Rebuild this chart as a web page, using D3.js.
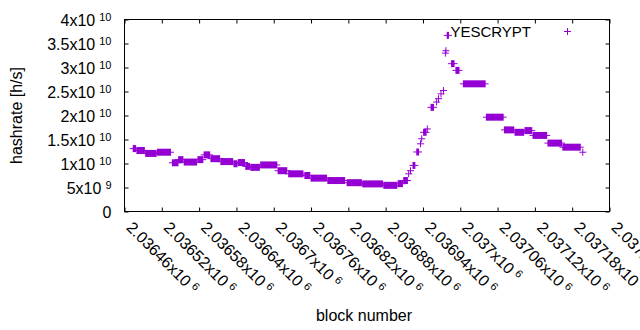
<!DOCTYPE html>
<html>
<head>
<meta charset="utf-8">
<script src="https://cdn.jsdelivr.net/npm/d3@7"></script>
<style>
body { margin: 0; background: #fff; }
text { font-family: "Liberation Sans", Arial, sans-serif; fill: #000; }
</style>
</head>
<body>
<div id="chart"></div>
<script>
// runs of blocks that share (roughly) the same hashrate
// hashrate in units of 1e9 h/s
var runStart = [2036474, 2036480, 2036494, 2036513, 2036537, 2036547, 2036556, 2036578, 2036588, 2036599,
    2036615, 2036636, 2036643, 2036655, 2036663, 2036679, 2036707, 2036724, 2036750, 2036760,
    2036787, 2036818, 2036843, 2036877, 2036900, 2036909, 2036917, 2036920, 2036924, 2036930,
    2036936, 2036938, 2036941, 2036947, 2036953, 2036962, 2036965, 2036969, 2036973, 2036976,
    2036977, 2036979, 2036986, 2036993, 2037005, 2037042, 2037071, 2037088, 2037104, 2037117,
    2037141, 2037165, 2037197];
var runEnd = [2036478, 2036492, 2036511, 2036534, 2036546, 2036554, 2036576, 2036586, 2036597, 2036613,
    2036634, 2036641, 2036653, 2036661, 2036677, 2036705, 2036721, 2036747, 2036758, 2036785,
    2036814, 2036841, 2036875, 2036898, 2036907, 2036915, 2036917, 2036920, 2036927, 2036933,
    2036936, 2036938, 2036945, 2036947, 2036957, 2036962, 2036965, 2036969, 2036973, 2036976,
    2036977, 2036981, 2036990, 2036998, 2037040, 2037069, 2037086, 2037102, 2037115, 2037139,
    2037163, 2037193, 2037197];
var runRate = [13.1, 12.7, 12.1, 12.35, 10.15, 10.8, 10.3, 10.8, 11.8, 11.0,
    10.4, 9.95, 10.2, 9.4, 9.2, 9.7, 8.5, 7.85, 7.5, 6.95,
    6.45, 6.0, 5.75, 5.45, 5.8, 6.45, 7.85, 8.5, 9.6, 12.4,
    14.1, 15.15, 16.5, 17.2, 21.7, 22.8, 23.5, 24.5, 25.2, 33.0,
    33.5, 36.7, 30.8, 29.4, 26.6, 19.65, 17.0, 16.5, 16.85, 15.85,
    14.25, 13.4, 12.35];

var xTicks = [2036460, 2036520, 2036580, 2036640, 2036700, 2036760, 2036820,
    2036880, 2036940, 2037000, 2037060, 2037120, 2037180, 2037240];
var yTicks = [0, 5e9, 1e10, 1.5e10, 2e10, 2.5e10, 3e10, 3.5e10, 4e10];
var seriesName = "YESCRYPT";

var margin = {top: 19.5, right: 30.5, bottom: 118.5, left: 124.5};
var width = 640 - margin.left - margin.right;
var height = 330 - margin.top - margin.bottom;
var color = "#9400d3";
var ps = 3.5; // half size of the + marker

var x = d3.scaleLinear()
    .domain([xTicks[0], xTicks[xTicks.length - 1]])
    .range([0, width]);
var y = d3.scaleLinear()
    .domain([0, 4e10])
    .range([height, 0]);

var runs = runStart.map(function(s, i) {
    return {start: s, end: runEnd[i], rate: runRate[i] * 1e9};
});

var svg = d3.select("#chart").append("svg")
    .attr("width", 640)
    .attr("height", 330)
    .append("g")
    .attr("transform", "translate(" + margin.left + "," + margin.top + ")");

// "m x 10^e" label with superscript exponent
function sciLabel(t, v, digits) {
    if (v === 0) { t.text("0"); return; }
    var e = Math.floor(Math.log10(v) + 1e-9);
    var m = +(v / Math.pow(10, e)).toFixed(digits);
    t.append("tspan").text(m + "x10");
    t.append("tspan").attr("dx", 4).attr("dy", -5).style("font-size", "11px").text(e);
}

var xAxis = d3.axisBottom(x).tickValues(xTicks).tickSize(-4).tickFormat("");
var yAxis = d3.axisLeft(y).tickValues(yTicks).tickSize(-4).tickFormat("");

var gx = svg.append("g")
    .attr("class", "x axis")
    .attr("transform", "translate(0," + height + ")")
    .call(xAxis);
gx.selectAll(".tick text")
    .attr("x", 0).attr("y", 0).attr("dy", null)
    .attr("transform", "translate(0.5,17) rotate(45)")
    .style("text-anchor", "start")
    .style("font-size", "16px")
    .each(function(d) { sciLabel(d3.select(this), d, 5); });

var gy = svg.append("g")
    .attr("class", "y axis")
    .call(yAxis);
gy.selectAll(".tick text")
    .attr("x", -13).attr("dy", null).attr("y", 5.5)
    .style("text-anchor", "end")
    .style("font-size", "16px")
    .each(function(d) { sciLabel(d3.select(this), d, 1); });

// mirrored ticks on top and right
svg.append("g").call(d3.axisTop(x).tickValues(xTicks).tickSize(-4).tickFormat(""));
svg.append("g")
    .attr("transform", "translate(" + width + ",0)")
    .call(d3.axisRight(y).tickValues(yTicks).tickSize(-4).tickFormat(""));

svg.selectAll(".domain").remove();
svg.selectAll(".tick line").attr("stroke", "#000");

svg.append("rect")
    .attr("width", width)
    .attr("height", height)
    .attr("fill", "none")
    .attr("stroke", "#000");

// each run: vertical arms of the + marks merge into a band, horizontal arms stick out at the ends
var run = svg.selectAll(".run")
    .data(runs)
    .enter().append("g")
    .attr("class", "run");

run.append("rect")
    .attr("x", function(d) { return x(d.start) - 0.5; })
    .attr("y", function(d) { return y(d.rate) - ps; })
    .attr("width", function(d) { return x(d.end) - x(d.start) + 1; })
    .attr("height", ps * 2)
    .attr("fill", color);

run.append("path")
    .attr("d", function(d) {
        return "M" + (x(d.start) - ps) + "," + y(d.rate) + "H" + (x(d.end) + ps);
    })
    .attr("stroke", color)
    .attr("stroke-width", 1);

// axis titles
svg.append("text")
    .attr("transform", "translate(" + (16 - margin.left) + "," + (height / 2) + ") rotate(-90)")
    .attr("dy", "0.35em")
    .style("text-anchor", "middle")
    .style("font-size", "16px")
    .text("hashrate [h/s]");

svg.append("text")
    .attr("x", width / 2 - 3)
    .attr("y", 321 - margin.top)
    .style("text-anchor", "middle")
    .style("font-size", "16px")
    .text("block number");

// legend
var legend = svg.append("g").attr("class", "legend");
legend.append("text")
    .attr("x", 531 - margin.left)
    .attr("y", 37 - margin.top)
    .style("text-anchor", "end")
    .style("font-size", "15px")
    .text(seriesName);
legend.append("path")
    .attr("d", "M" + (567.5 - margin.left - ps) + "," + (31.5 - margin.top) + "h" + (ps * 2) +
        "M" + (567.5 - margin.left) + "," + (31.5 - margin.top - ps) + "v" + (ps * 2))
    .attr("stroke", color)
    .attr("stroke-width", 1);
</script>
</body>
</html>
